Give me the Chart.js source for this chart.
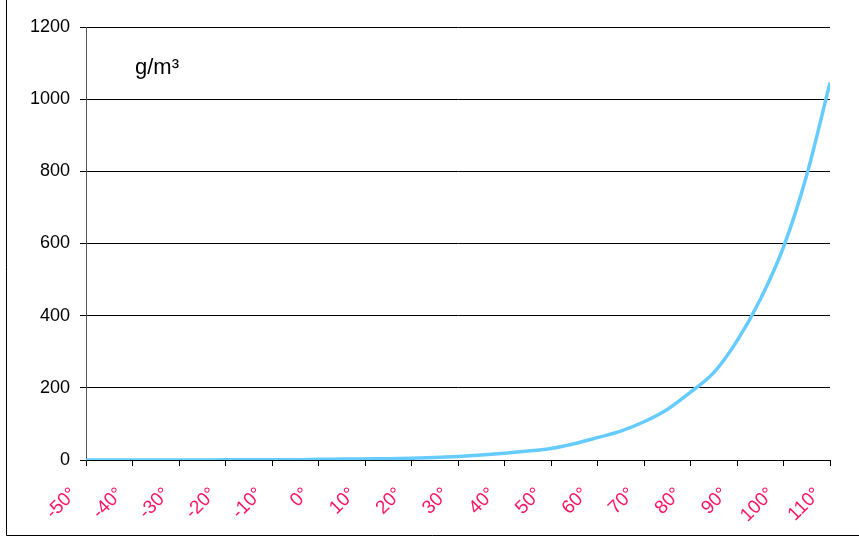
<!DOCTYPE html>
<html>
<head>
<meta charset="utf-8">
<script src="https://cdn.jsdelivr.net/npm/chart.js@4.4.1/dist/chart.umd.min.js"></script>
<style>
  body { margin: 0; background: #fff; }
  #box { width: 859px; height: 537px; }
</style>
</head>
<body>
<div id="box"><canvas id="densita"></canvas></div>
<script>

// temperatura (°C) e densita vapore saturo (g/m³)
var temperature = [-50, -45, -40, -35, -30, -25, -20, -15, -10, -5, 0, 5, 10, 15, 20, 25, 30, 35, 40, 45, 50, 55, 60, 65, 70, 75, 80, 85, 90, 95, 100, 105, 110];
var densita = [0, 0, 0, 0, 0, 0, 0.5, 0.5, 0.5, 0.5, 2, 2.5, 3, 3.5, 5, 7, 10, 14, 19, 25, 32, 45, 62, 80, 106, 140, 188, 242, 330, 445, 590, 790, 1046];
var tickX = [-50, -40, -30, -20, -10, 0, 10, 20, 30, 40, 50, 60, 70, 80, 90, 100, 110];
var tickY = [0, 200, 400, 600, 800, 1000, 1200];
var unita = 'g/m³';

var cornice = {
  id: 'cornice',
  beforeDraw: function(chart) {
    var ctx = chart.ctx;
    ctx.save();
    ctx.strokeStyle = '#000';
    ctx.lineWidth = 1;
    ctx.beginPath();
    ctx.moveTo(6.5, 0);
    ctx.lineTo(6.5, 535.5);
    ctx.lineTo(chart.width, 535.5);
    ctx.stroke();
    ctx.restore();
  },
  afterDraw: function(chart) {
    var ctx = chart.ctx;
    ctx.save();
    ctx.fillStyle = '#000';
    ctx.font = '22px "Liberation Sans", Arial, sans-serif';
    ctx.textBaseline = 'alphabetic';
    ctx.fillText(unita, chart.chartArea.left + 49, 74);
    ctx.restore();
  }
};

function printChartDensita() {

  var points = [];
  for (var i = 0; i < temperature.length; i++) {
    points.push({ x: temperature[i], y: densita[i] });
  }

  var ctx = document.getElementById('densita').getContext('2d');
  new Chart(ctx, {
    type: 'line',
    data: {
      datasets: [{
        label: unita,
        data: points,
        borderColor: '#66ccff',
        borderWidth: 3.5,
        pointRadius: 0,
        cubicInterpolationMode: 'monotone',
        fill: false
      }]
    },
    options: {
      responsive: true,
      maintainAspectRatio: false,
      animation: false,
      layout: { padding: { left: 0, right: 29, top: 27, bottom: 0 } },
      plugins: {
        legend: { display: false },
        tooltip: { enabled: false }
      },
      scales: {
        x: {
          type: 'linear',
          min: -50,
          max: 110,
          afterBuildTicks: function(scale) {
            scale.ticks = tickX.map(function(v) { return { value: v }; });
          },
          afterFit: function(scale) {
            scale.height = 77;
            scale.paddingLeft = 0;
            scale.paddingRight = 0;
          },
          border: { color: '#000', width: 1 },
          grid: { drawOnChartArea: false, drawTicks: true, tickLength: 6, color: '#000' },
          ticks: {
            color: '#ff1464',
            font: { family: '"Liberation Sans", Arial, sans-serif', size: 19 },
            minRotation: 45,
            maxRotation: 45,
            autoSkip: false,
            padding: 17,
            labelOffset: -12,
            callback: function(v) { return v + '°'; }
          }
        },
        y: {
          min: 0,
          max: 1200,
          afterBuildTicks: function(scale) {
            scale.ticks = tickY.map(function(v) { return { value: v }; });
          },
          afterFit: function(scale) { scale.width = 86; },
          border: { color: '#555', width: 1 },
          grid: { color: '#000', tickLength: 6, lineWidth: 1 },
          ticks: {
            color: '#000',
            font: { family: '"Liberation Sans", Arial, sans-serif', size: 18 },
            padding: 10,
            callback: function(v) { return String(v); }
          }
        }
      }
    },
    plugins: [cornice]
  });
}

function init() {
  printChartDensita();
}

init();
</script>
</body>
</html>
